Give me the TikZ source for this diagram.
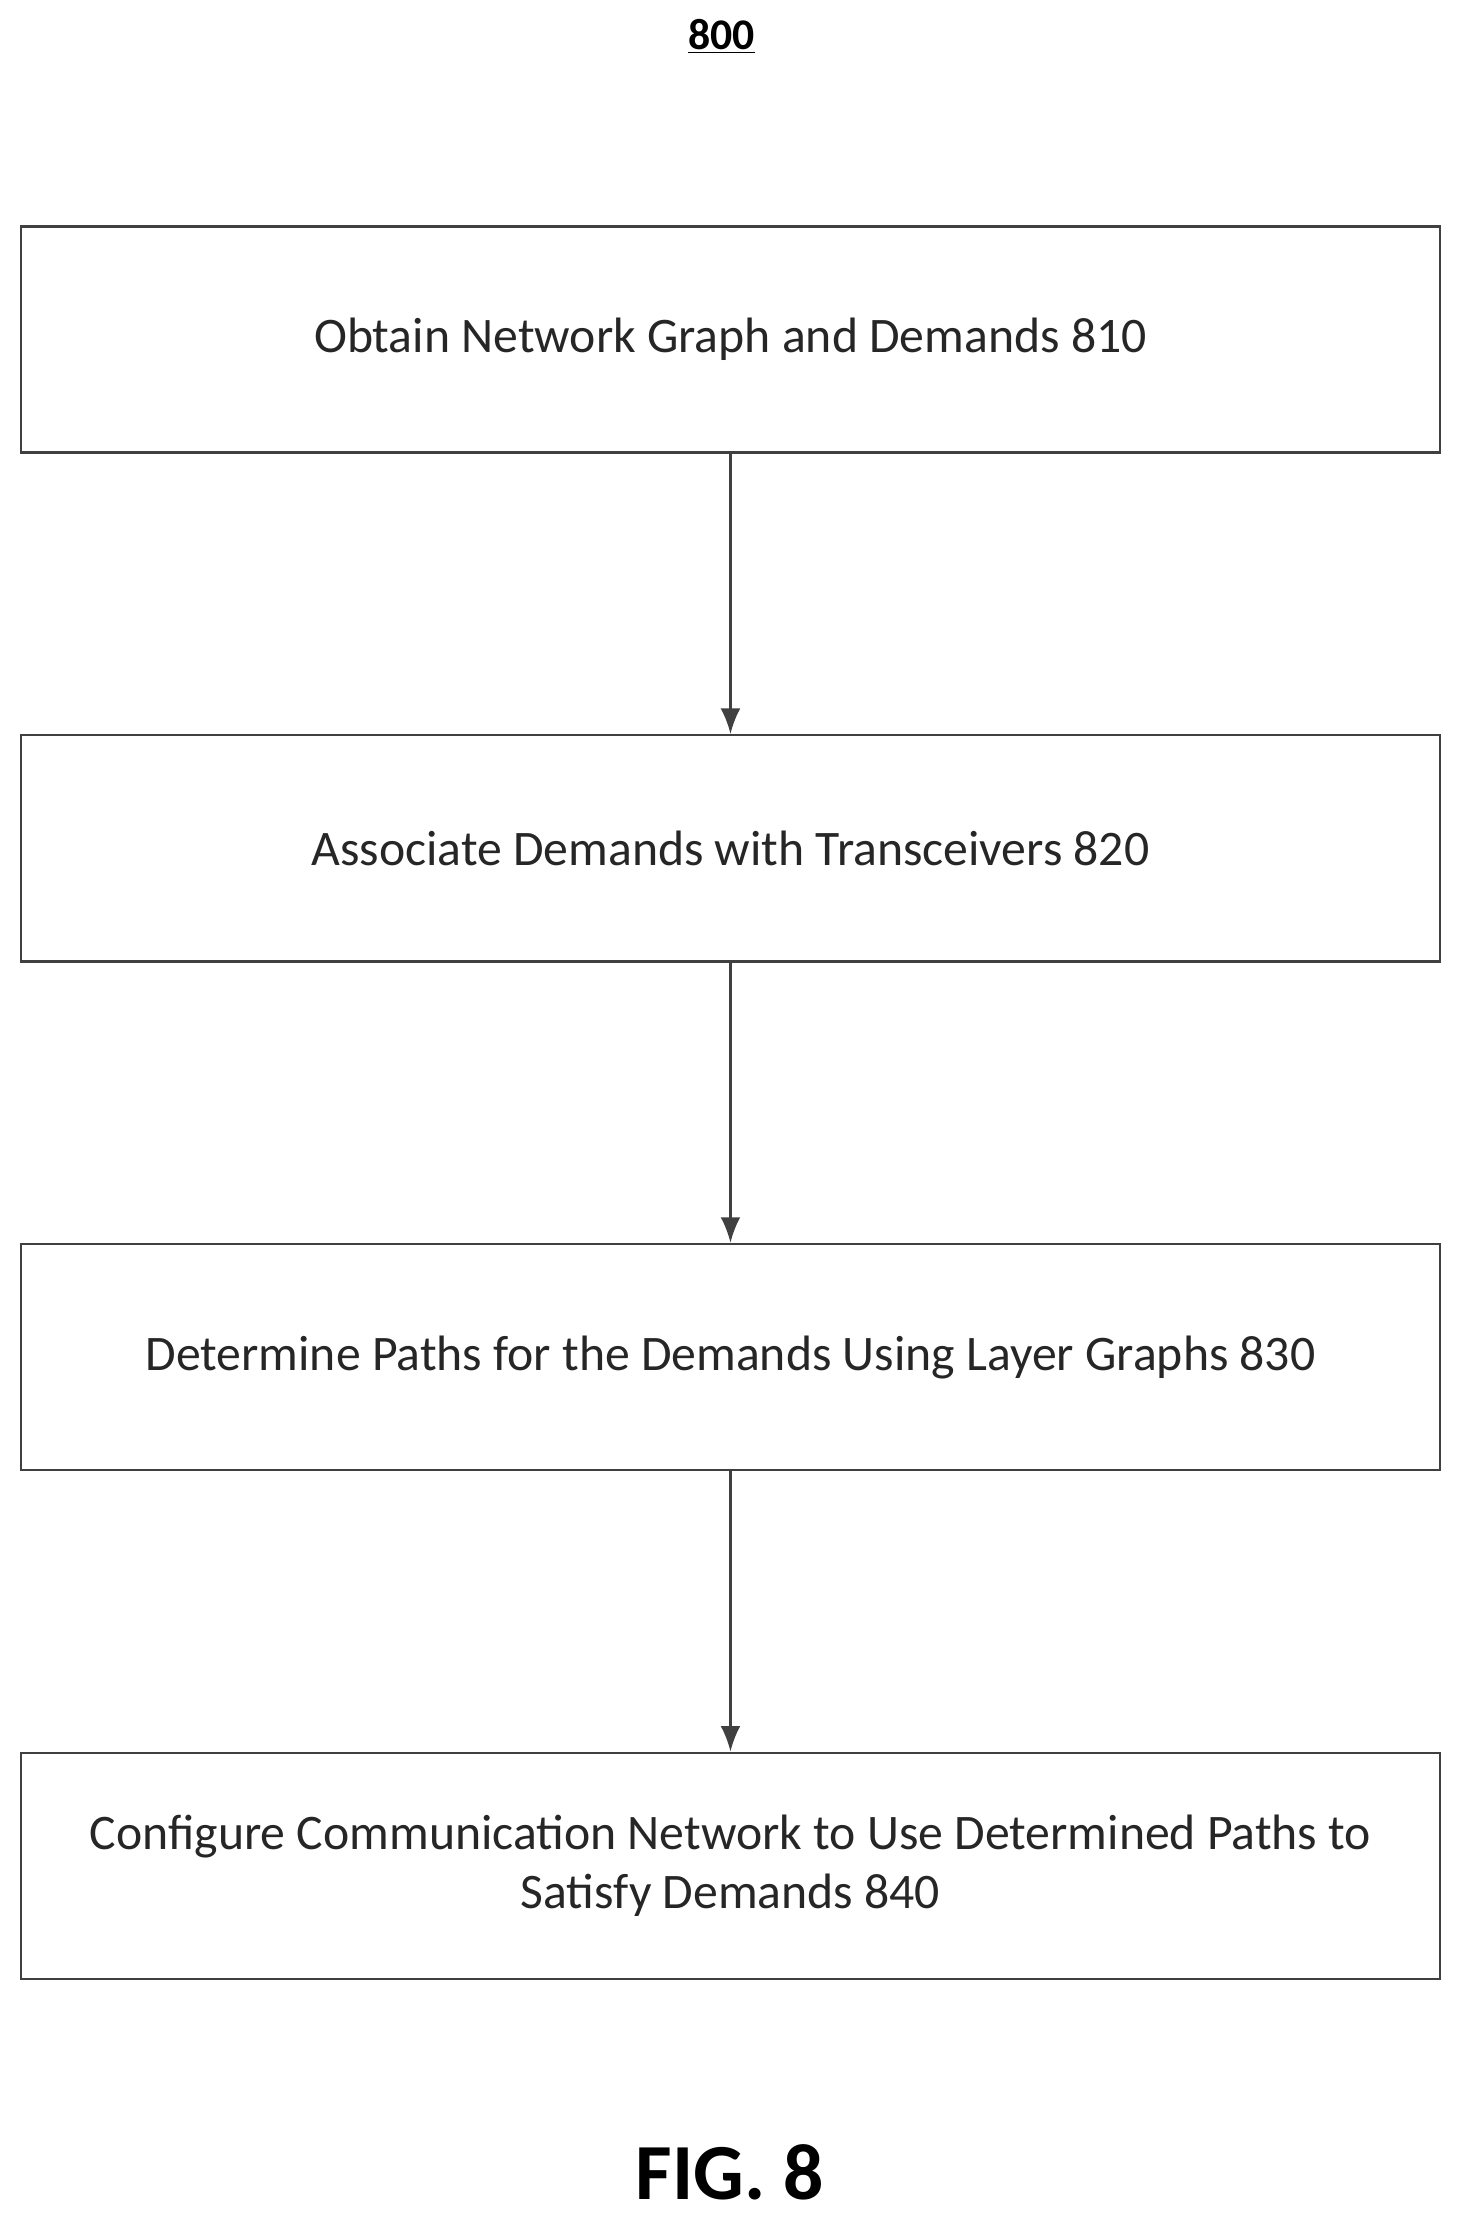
\documentclass[tikz,border=0pt]{standalone}
\usepackage{fontspec}
\setmainfont{Carlito}
\usetikzlibrary{positioning,arrows.meta}
\tikzset{>={Latex[length=0.45cm,width=0.35cm]}}
\begin{document}
\begin{tikzpicture}[
  stage/.style={draw=black!75,very thick,minimum width=25.07cm,minimum height=4cm,align=center,
    font=\fontsize{25}{30}\selectfont,text=black!85},
  flow/.style={->,very thick,black!75}]
\useasboundingbox (0,0) rectangle (25.8,-39.2);
\node[font=\fontsize{22}{26}\selectfont\bfseries] (title) at (12.75,-0.65) {\underline{800}};
\node[stage] (s810) at (12.91,-6) {Obtain Network Graph and Demands 810};
\node[stage,below=4.95cm of s810] (s820) {Associate Demands with Transceivers 820};
\node[stage,below=4.95cm of s820] (s830) {Determine Paths for the Demands Using Layer Graphs 830};
\node[stage,below=4.95cm of s830] (s840) {Configure Communication Network to Use Determined Paths to\\Satisfy Demands 840};
\draw[flow] (s810) -- (s820);
\draw[flow] (s820) -- (s830);
\draw[flow] (s830) -- (s840);
\node[font=\fontsize{40}{46}\selectfont\bfseries] (fig) at (12.9,-38.4) {FIG. 8};
\end{tikzpicture}
\end{document}
